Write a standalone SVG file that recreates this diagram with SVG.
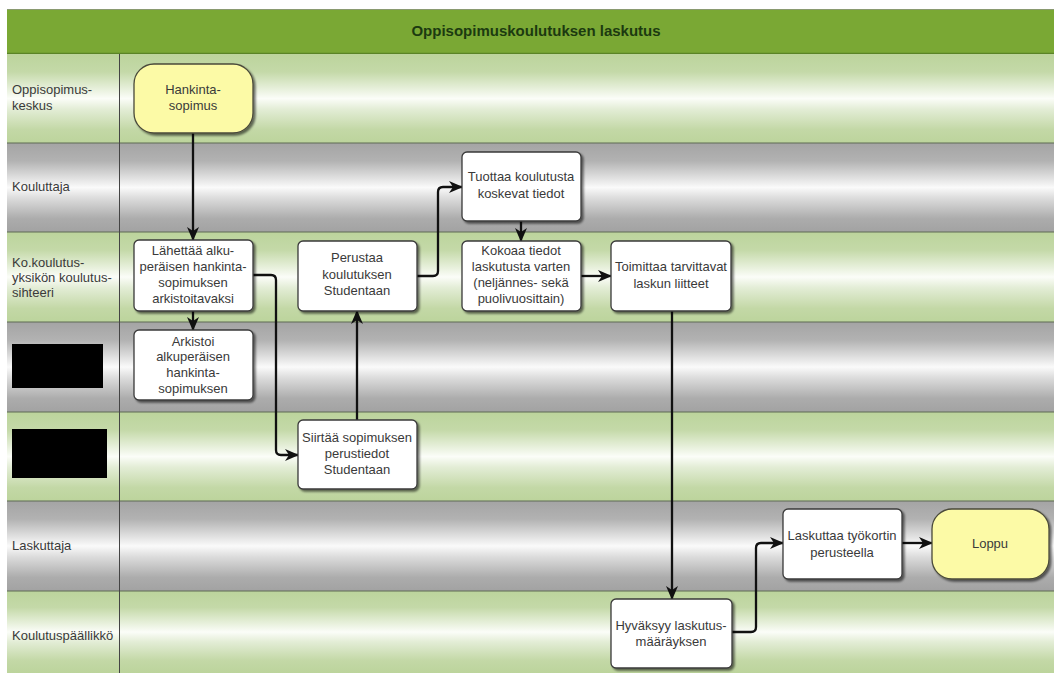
<svg xmlns="http://www.w3.org/2000/svg" width="1054" height="673" viewBox="0 0 1054 673">
<defs>
<linearGradient id="gGreen" x1="0" y1="0" x2="0" y2="1">
<stop offset="0" stop-color="#bcd49c"/>
<stop offset="0.2" stop-color="#c4d9a8"/>
<stop offset="0.5" stop-color="#fbfdf8"/>
<stop offset="0.62" stop-color="#e3edd6"/>
<stop offset="0.85" stop-color="#c3d8a6"/>
<stop offset="1" stop-color="#bcd49c"/>
</linearGradient>
<linearGradient id="gGray" x1="0" y1="0" x2="0" y2="1">
<stop offset="0" stop-color="#a4a4a4"/>
<stop offset="0.2" stop-color="#b2b2b2"/>
<stop offset="0.5" stop-color="#fafafa"/>
<stop offset="0.62" stop-color="#dcdcdc"/>
<stop offset="0.85" stop-color="#acacac"/>
<stop offset="1" stop-color="#a2a2a2"/>
</linearGradient>
<filter id="sh" x="-10%" y="-10%" width="130%" height="130%">
<feDropShadow dx="2" dy="2" stdDeviation="1.2" flood-color="#000" flood-opacity="0.55"/>
</filter>
<marker id="arr" viewBox="0 0 14 12" refX="13" refY="6" markerWidth="14" markerHeight="12" markerUnits="userSpaceOnUse" orient="auto">
<path d="M0,0 L14,6 L0,12 L4,6 Z" fill="#111"/>
</marker>
<style>
.lab{font-family:"Liberation Sans",Arial,sans-serif;font-size:13px;fill:#3a3a3a}
.nt{font-family:"Liberation Sans",Arial,sans-serif;font-size:13px;fill:#3a3a3a;text-anchor:middle}
.box{fill:#ffffff;stroke:#3a3a3a;stroke-width:1.3;filter:url(#sh)}
.term{fill:#fcfaa6;stroke:#4a4a3a;stroke-width:1.3;filter:url(#sh)}
.lane-line{stroke:#5f6b55;stroke-width:1.2}
.con{fill:none;stroke:#111;stroke-width:2.3;marker-end:url(#arr)}
</style>
</defs>

<g id="lanes">
<rect x="7" y="9" width="1047" height="45" fill="#7aa834"/>
<line x1="7" y1="9.5" x2="1054" y2="9.5" stroke="#8a9a70" stroke-width="1"/>
<line x1="7" y1="53.5" x2="1054" y2="53.5" stroke="#5a8426" stroke-width="1.5"/>
<text x="536" y="36" text-anchor="middle" font-family="'Liberation Sans',Arial,sans-serif" font-size="15" font-weight="bold" fill="#1c3a10">Oppisopimuskoulutuksen laskutus</text>

<rect x="7" y="54" width="1047" height="89" fill="url(#gGreen)"/>
<rect x="7" y="143" width="1047" height="89" fill="url(#gGray)"/>
<rect x="7" y="232" width="1047" height="90" fill="url(#gGreen)"/>
<rect x="7" y="322" width="1047" height="90" fill="url(#gGray)"/>
<rect x="7" y="412" width="1047" height="89" fill="url(#gGreen)"/>
<rect x="7" y="501" width="1047" height="90" fill="url(#gGray)"/>
<rect x="7" y="591" width="1047" height="82" fill="url(#gGreen)"/>

<line class="lane-line" x1="7" y1="143" x2="1054" y2="143"/>
<line class="lane-line" x1="7" y1="232" x2="1054" y2="232"/>
<line class="lane-line" x1="7" y1="322" x2="1054" y2="322"/>
<line class="lane-line" x1="7" y1="412" x2="1054" y2="412"/>
<line class="lane-line" x1="7" y1="501" x2="1054" y2="501"/>
<line class="lane-line" x1="7" y1="591" x2="1054" y2="591"/>
<line x1="119.5" y1="54" x2="119.5" y2="673" stroke="#444" stroke-width="1"/>

<text class="lab" x="12" y="94">Oppisopimus-</text>
<text class="lab" x="12" y="110">keskus</text>
<text class="lab" x="12" y="191">Kouluttaja</text>
<text class="lab" x="12" y="267">Ko.koulutus-</text>
<text class="lab" x="12" y="282">yksikön koulutus-</text>
<text class="lab" x="12" y="297">sihteeri</text>
<rect x="12" y="344" width="91" height="44" fill="#000"/>
<rect x="12" y="429" width="95" height="49" fill="#000"/>
<text class="lab" x="12" y="550">Laskuttaja</text>
<text class="lab" x="12" y="640">Koulutuspäällikkö</text>
</g>

<g id="connectors">
<path class="con" d="M193,133 V240"/>
<path class="con" d="M193,311 V330"/>
<path class="con" d="M253,275 H271 Q276,275 276,280 V450 Q276,455 281,455 H298"/>
<path class="con" d="M357,420 V311"/>
<path class="con" d="M417,276 H433 Q438,276 438,271 V192 Q438,187 443,187 H462"/>
<path class="con" d="M521,221 V241"/>
<path class="con" d="M581,276 H611"/>
<path class="con" d="M672,311 V599"/>
<path class="con" d="M732,632 H751 Q756,632 756,627 V548 Q756,543 761,543 H783"/>
<path class="con" d="M902,543 H932"/>
</g>

<g id="n-hankinta">
<rect class="term" x="134" y="64" width="119" height="69" rx="20"/>
<text class="nt" x="193" y="94">Hankinta-</text>
<text class="nt" x="193" y="110">sopimus</text>
</g>
<g id="n-lahettaa">
<rect class="box" x="134" y="240" width="119" height="71" rx="5"/>
<text class="nt" x="193" y="255">Lähettää alku-</text>
<text class="nt" x="193" y="271">peräisen hankinta-</text>
<text class="nt" x="193" y="287">sopimuksen</text>
<text class="nt" x="193" y="303">arkistoitavaksi</text>
</g>
<g id="n-arkistoi">
<rect class="box" x="134" y="330" width="119" height="70" rx="5"/>
<text class="nt" x="193" y="346">Arkistoi</text>
<text class="nt" x="193" y="361">alkuperäisen</text>
<text class="nt" x="193" y="377">hankinta-</text>
<text class="nt" x="193" y="393">sopimuksen</text>
</g>
<g id="n-perustaa">
<rect class="box" x="298" y="241" width="119" height="70" rx="5"/>
<text class="nt" x="357" y="262">Perustaa</text>
<text class="nt" x="357" y="279">koulutuksen</text>
<text class="nt" x="357" y="295">Studentaan</text>
</g>
<g id="n-tuottaa">
<rect class="box" x="462" y="152" width="119" height="69" rx="5"/>
<text class="nt" x="521" y="181">Tuottaa koulutusta</text>
<text class="nt" x="521" y="198">koskevat tiedot</text>
</g>
<g id="n-kokoaa">
<rect class="box" x="462" y="241" width="119" height="70" rx="5"/>
<text class="nt" x="521" y="255">Kokoaa tiedot</text>
<text class="nt" x="521" y="271">laskutusta varten</text>
<text class="nt" x="521" y="287">(neljännes- sekä</text>
<text class="nt" x="521" y="303">puolivuosittain)</text>
</g>
<g id="n-toimittaa">
<rect class="box" x="611" y="241" width="120" height="70" rx="5"/>
<text class="nt" x="671" y="271">Toimittaa tarvittavat</text>
<text class="nt" x="671" y="288">laskun liitteet</text>
</g>
<g id="n-siirtaa">
<rect class="box" x="298" y="420" width="119" height="69" rx="5"/>
<text class="nt" x="357" y="442">Siirtää sopimuksen</text>
<text class="nt" x="357" y="458">perustiedot</text>
<text class="nt" x="357" y="474">Studentaan</text>
</g>
<g id="n-laskuttaa">
<rect class="box" x="783" y="509" width="119" height="70" rx="5"/>
<text class="nt" x="842" y="540">Laskuttaa työkortin</text>
<text class="nt" x="842" y="557">perusteella</text>
</g>
<g id="n-loppu">
<rect class="term" x="932" y="509" width="117" height="70" rx="20"/>
<text class="nt" x="990" y="548">Loppu</text>
</g>
<g id="n-hyvaksyy">
<rect class="box" x="611" y="599" width="121" height="69" rx="5"/>
<text class="nt" x="671" y="630">Hyväksyy laskutus-</text>
<text class="nt" x="671" y="646">määräyksen</text>
</g>
</svg>
